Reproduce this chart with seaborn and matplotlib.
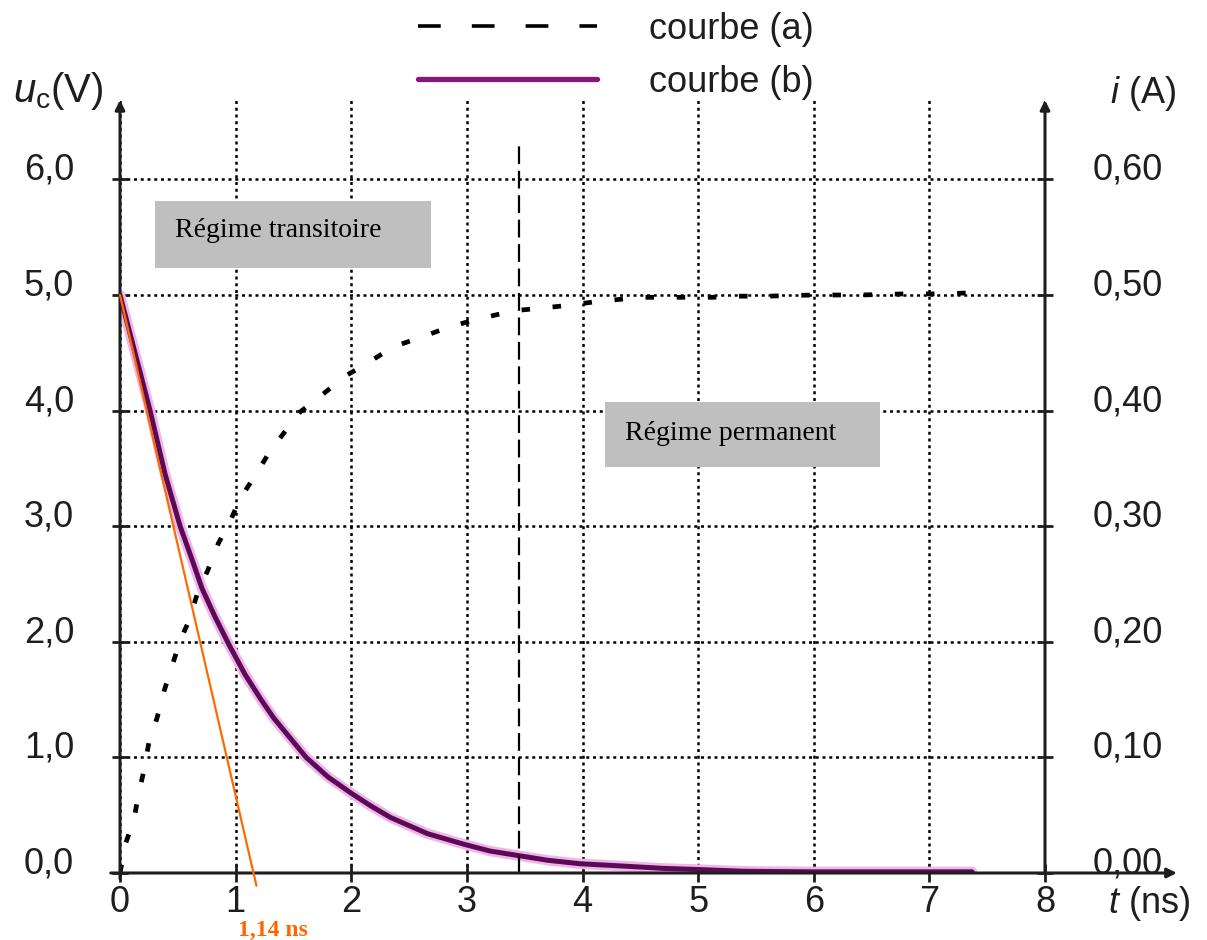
import numpy as np
import pandas as pd
import matplotlib
matplotlib.use("Agg")
import matplotlib.pyplot as plt
import seaborn as sns
from matplotlib.lines import Line2D
from matplotlib.patches import Rectangle
from matplotlib.transforms import ScaledTranslation

# ---------------- data ----------------
# courbe (a): u_c(t)
t_a = [0.0, 0.05, 0.12, 0.16, 0.21, 0.25, 0.32, 0.38, 0.45, 0.52, 0.60, 0.67,
       0.76, 0.85, 0.96, 1.04, 1.17, 1.28, 1.42, 1.56, 1.74, 1.95, 2.14, 2.36,
       2.59, 2.84, 3.05, 3.26, 3.47, 3.68, 3.87, 4.10, 4.30, 4.50, 4.72, 4.93,
       5.13, 5.30, 5.60, 6.00, 6.40, 6.80, 7.10, 7.40]
u_a = [0.0, 0.26, 0.46, 0.68, 0.90, 1.13, 1.34, 1.57, 1.79, 2.01, 2.19, 2.42,
       2.62, 2.85, 3.06, 3.24, 3.44, 3.62, 3.81, 3.99, 4.13, 4.30, 4.41, 4.55,
       4.63, 4.72, 4.78, 4.83, 4.87, 4.89, 4.91, 4.94, 4.96, 4.98, 4.98, 4.98,
       4.98, 4.99, 4.99, 5.00, 5.00, 5.01, 5.01, 5.02]

# courbe (b): i(t) (read on the left scale)
t_b = [0.0, 0.13, 0.26, 0.39, 0.52, 0.62, 0.71, 0.82, 0.94, 1.08, 1.22, 1.33,
       1.47, 1.61, 1.80, 2.0, 2.17, 2.34, 2.50, 2.66, 2.97, 3.20, 3.45, 3.70,
       3.98, 4.35, 4.70, 5.00, 5.40, 6.00, 6.70, 7.37]
u_b = [5.00, 4.50, 4.00, 3.45, 3.00, 2.72, 2.46, 2.22, 1.98, 1.72, 1.50, 1.34,
       1.17, 1.00, 0.83, 0.69, 0.58, 0.48, 0.41, 0.34, 0.25, 0.19, 0.15, 0.11,
       0.08, 0.06, 0.04, 0.03, 0.015, 0.01, 0.01, 0.01]

# tangent at origin (orange)
tan_t = [0.0, 1.18]
tan_u = [5.0, -0.11]

# vertical dashed marker
vline_t = 3.45
vline_top = 6.33

x_ticks = [0, 1, 2, 3, 4, 5, 6, 7, 8]
x_labels = ["0", "1", "2", "3", "4", "5", "6", "7", "8"]
y_ticks = [0, 1, 2, 3, 4, 5, 6]
y_labels = ["0,0", "1,0", "2,0", "3,0", "4,0", "5,0", "6,0"]
i_ticks = [0.0, 0.1, 0.2, 0.3, 0.4, 0.5, 0.6]
i_labels = ["0,00", "0,10", "0,20", "0,30", "0,40", "0,50", "0,60"]

legend_labels = ["courbe (a)", "courbe (b)"]
tau_label = "1,14 ns"
box_labels = ["Régime transitoire", "Régime permanent"]

# ---------------- styling ----------------
sns.set_theme(style="white")
plt.rcParams["font.family"] = ["Liberation Sans", "DejaVu Sans"]
plt.rcParams["mathtext.fontset"] = "custom"
plt.rcParams["mathtext.it"] = "Liberation Sans:italic"
plt.rcParams["mathtext.rm"] = "Liberation Sans"

FS = 26
INK = "#1e1e1e"
PURPLE = "#5c0a55"

fig = plt.figure(figsize=(12.07, 9.40), dpi=100)
fig.patch.set_facecolor("white")
ax = fig.add_axes([120 / 1207, 67 / 940, 925 / 1207, 773 / 940])
ymax = 773 / 115.6
ax.set_xlim(0, 8)
ax.set_ylim(0, ymax)
for s in ax.spines.values():
    s.set_visible(False)

# grid
ax.set_axisbelow(True)
ax.grid(True, color="black", linestyle=(0, (1.2, 1.5)), linewidth=1.8)

# axes arrows
arrow_kw = dict(arrowstyle="-|>", color=INK, lw=2.2, mutation_scale=14,
                shrinkA=0, shrinkB=0)
ax.annotate("", xy=(0, ymax), xytext=(0, -0.05), xycoords="data",
            arrowprops=arrow_kw, annotation_clip=False, zorder=5)
ax.annotate("", xy=(8, ymax), xytext=(8, 0), xycoords="data",
            arrowprops=arrow_kw, annotation_clip=False, zorder=5)
ax.annotate("", xy=(9.14, 0), xytext=(-0.08, 0), xycoords="data",
            arrowprops=arrow_kw, annotation_clip=False, zorder=5)

# curves
df_a = pd.DataFrame({"t": t_a, "u": u_a})
df_b = pd.DataFrame({"t": t_b, "u": u_b})
sns.lineplot(data=df_b, x="t", y="u", sort=False, estimator=None, ax=ax,
             color="#efb6ea", lw=7.5, zorder=3, legend=False)
sns.lineplot(data=df_b, x="t", y="u", sort=False, estimator=None, ax=ax,
             color=PURPLE, lw=3.6, zorder=4, legend=False)
sns.lineplot(data=df_a, x="t", y="u", sort=False, estimator=None, ax=ax,
             color="black", lw=3.4, linestyle=(0, (1.8, 4.8)), zorder=4,
             legend=False)
ax.plot([vline_t, vline_t], [0, vline_top], color="black", lw=1.6,
        linestyle=(0, (8, 3)), zorder=4)
ax.plot(tan_t, tan_u, color="#ff6a00", lw=1.6, zorder=6, clip_on=False)

# grey boxes
ax.add_patch(Rectangle((0.303, 5.23), 2.387, 0.58, facecolor="#bfbfbf",
                       edgecolor="none", zorder=5))
ax.text(0.476, 5.555, box_labels[0], family="Liberation Serif", fontsize=20,
        color="black", va="center", ha="left", zorder=6)
ax.add_patch(Rectangle((4.196, 3.512), 2.378, 0.562, facecolor="#bfbfbf",
                       edgecolor="none", zorder=5))
ax.text(4.37, 3.80, box_labels[1], family="Liberation Serif", fontsize=20,
        color="black", va="center", ha="left", zorder=6)

ax.text(1.32, -0.50, tau_label, family="Liberation Serif", fontweight="bold",
        fontsize=17, color="#ff6600", ha="center", va="center",
        clip_on=False)

# ticks
ax.set_xticks(x_ticks)
ax.set_xticklabels(x_labels)
ax.set_yticks(y_ticks)
ax.set_yticklabels(y_labels)
ax.tick_params(axis="x", direction="inout", length=13, width=2, color=INK,
               labelsize=FS, pad=2, labelcolor=INK, bottom=True)
ax.tick_params(axis="y", direction="inout", length=12, width=2, color=INK,
               labelsize=FS, pad=27, labelcolor=INK, left=True)

ax2 = ax.twinx()
ax2.set_ylim(0, ymax / 10)
for s in ax2.spines.values():
    s.set_visible(False)
ax2.set_yticks(i_ticks)
ax2.set_yticklabels(i_labels)
ax2.tick_params(axis="y", direction="inout", length=12, width=2, color=INK,
                labelsize=FS, pad=28, labelcolor=INK, right=True)
ax2.grid(False)

# axis labels
ax.set_xlabel(r"$t$ (ns)", fontsize=FS, color=INK, va="center")
ax.xaxis.set_label_coords(1.112, -0.039)
ax.set_ylabel(r"$u_{\mathrm{c}}$(V)", fontsize=29, color=INK, rotation=0,
              va="center", ha="center")
ax.yaxis.set_label_coords(-0.067, 1.011)
ax2.set_ylabel(r"$i$ (A)", fontsize=FS, color=INK, rotation=0,
               va="center", ha="center")
ax2.yaxis.set_label_coords(1.106, 1.009)

# shift the y tick labels up a little, as on the original
off = ScaledTranslation(0, 13 / 100, fig.dpi_scale_trans)
for lbl in ax.get_yticklabels() + ax2.get_yticklabels():
    lbl.set_transform(lbl.get_transform() + off)

# legend (top)
handles = [
    Line2D([], [], color="black", lw=2.6, linestyle=(0, (6.3, 8.6))),
    Line2D([], [], color="#86167a", lw=3.8),
]
fig.legend(handles, legend_labels, loc="upper left",
           bbox_to_anchor=(418 / 1207, 1 - 12 / 940),
           bbox_transform=fig.transFigure, frameon=False, fontsize=FS,
           handlelength=4.95, handletextpad=1.45, labelspacing=0.5,
           borderpad=0, borderaxespad=0, labelcolor=INK)

fig.savefig("out.png", dpi=100, facecolor="white")
